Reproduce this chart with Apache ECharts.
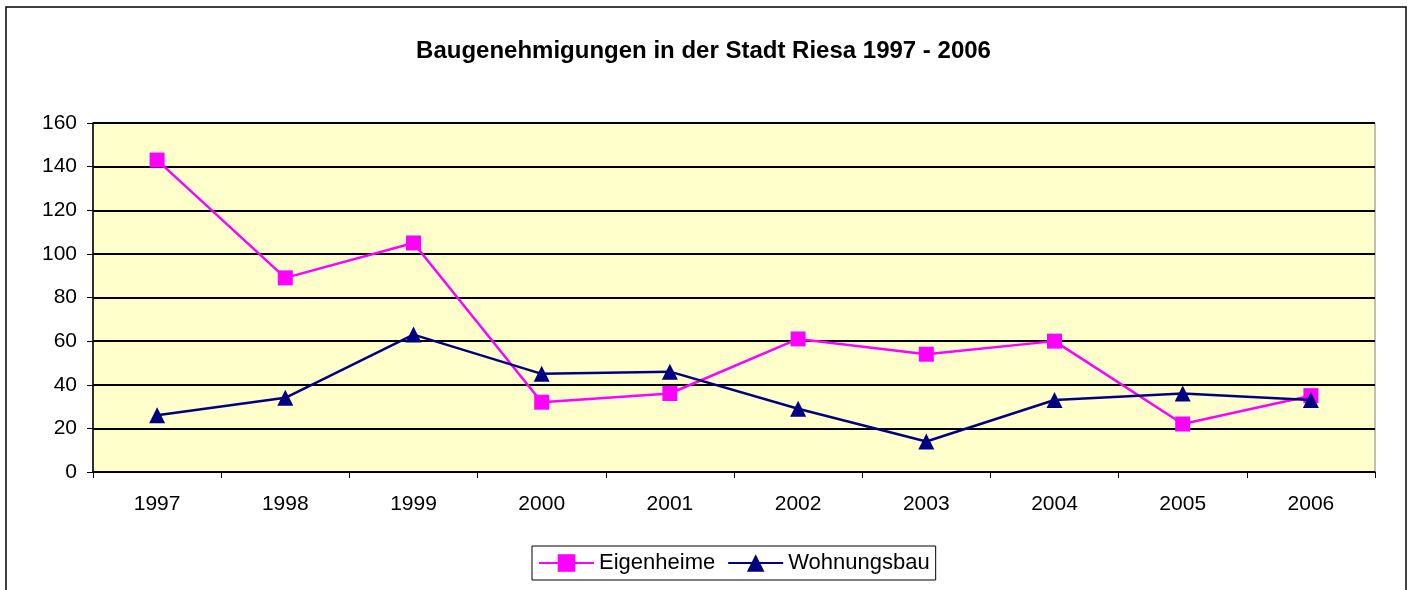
<!DOCTYPE html>
<html><head><meta charset="utf-8">
<script src="https://cdn.jsdelivr.net/npm/echarts@6/dist/echarts.min.js"></script>
<style>html,body{margin:0;padding:0;background:#fff}#c{width:1407px;height:590px}</style>
</head><body><div id="c"></div>
<script>
const years = ['1997','1998','1999','2000','2001','2002','2003','2004','2005','2006'];
const eigenheime = [143, 89, 105, 32, 36, 61, 54, 60, 22, 35];
const wohnungsbau = [26, 34, 63, 45, 46, 29, 14, 33, 36, 33];
const yTicks = [0, 20, 40, 60, 80, 100, 120, 140, 160];

const FONT = 'Liberation Sans, Arial';
const chart = echarts.init(document.getElementById('c'), null, {renderer:'canvas'});
chart.setOption({
  animation: false,
  backgroundColor: '#fff',
  title: {
    text: 'Baugenehmigungen in der Stadt Riesa 1997 - 2006',
    left: 'center', top: 34,
    textStyle: {fontFamily: FONT, fontSize: 24, fontWeight: 'bold', color: '#000'}
  },
  graphic: [{
    type: 'rect', shape: {x: 6, y: 7, width: 1400, height: 600},
    style: {fill: 'none', stroke: '#000', lineWidth: 1.5}, silent: true, z: 0
  }],
  legend: {
    bottom: 10, left: 532,
    data: ['Eigenheime', 'Wohnungsbau'],
    itemWidth: 55, itemHeight: 22, itemGap: 12,
    padding: [6, 6, 6, 6],
    borderColor: '#000', borderWidth: 1,
    textStyle: {fontFamily: FONT, fontSize: 22, color: '#000'}
  },
  grid: {left: 93, right: 32, top: 123, bottom: 118, show: true, backgroundColor: '#ffffcc', borderColor: '#808080', borderWidth: 1},
  xAxis: {
    type: 'category', data: years, boundaryGap: true,
    axisLine: {lineStyle: {color: '#000', width: 1.5}},
    axisTick: {show: true, length: 6, interval: 0, lineStyle: {color: '#000'}},
    axisLabel: {fontFamily: FONT, fontSize: 21, color: '#000', margin: 22}
  },
  yAxis: {
    type: 'value', min: 0, max: 160, interval: 20,
    axisLine: {show: true, lineStyle: {color: '#000', width: 1.5}},
    axisTick: {show: true, length: 6, lineStyle: {color: '#000'}},
    axisLabel: {fontFamily: FONT, fontSize: 21, color: '#000', margin: 16,
      formatter: v => yTicks.includes(v) ? String(v) : ''},
    splitLine: {show: true, lineStyle: {color: '#000', width: 2}}
  },
  series: [
    {name: 'Eigenheime', type: 'line', data: eigenheime, symbol: 'rect', symbolSize: 15,
     lineStyle: {color: '#ff00ff', width: 2.5}, itemStyle: {color: '#ff00ff'}, z: 3},
    {name: 'Wohnungsbau', type: 'line', data: wohnungsbau, symbol: 'triangle', symbolSize: 16,
     lineStyle: {color: '#000080', width: 2.5}, itemStyle: {color: '#000080'}, z: 4}
  ]
});
</script></body></html>
